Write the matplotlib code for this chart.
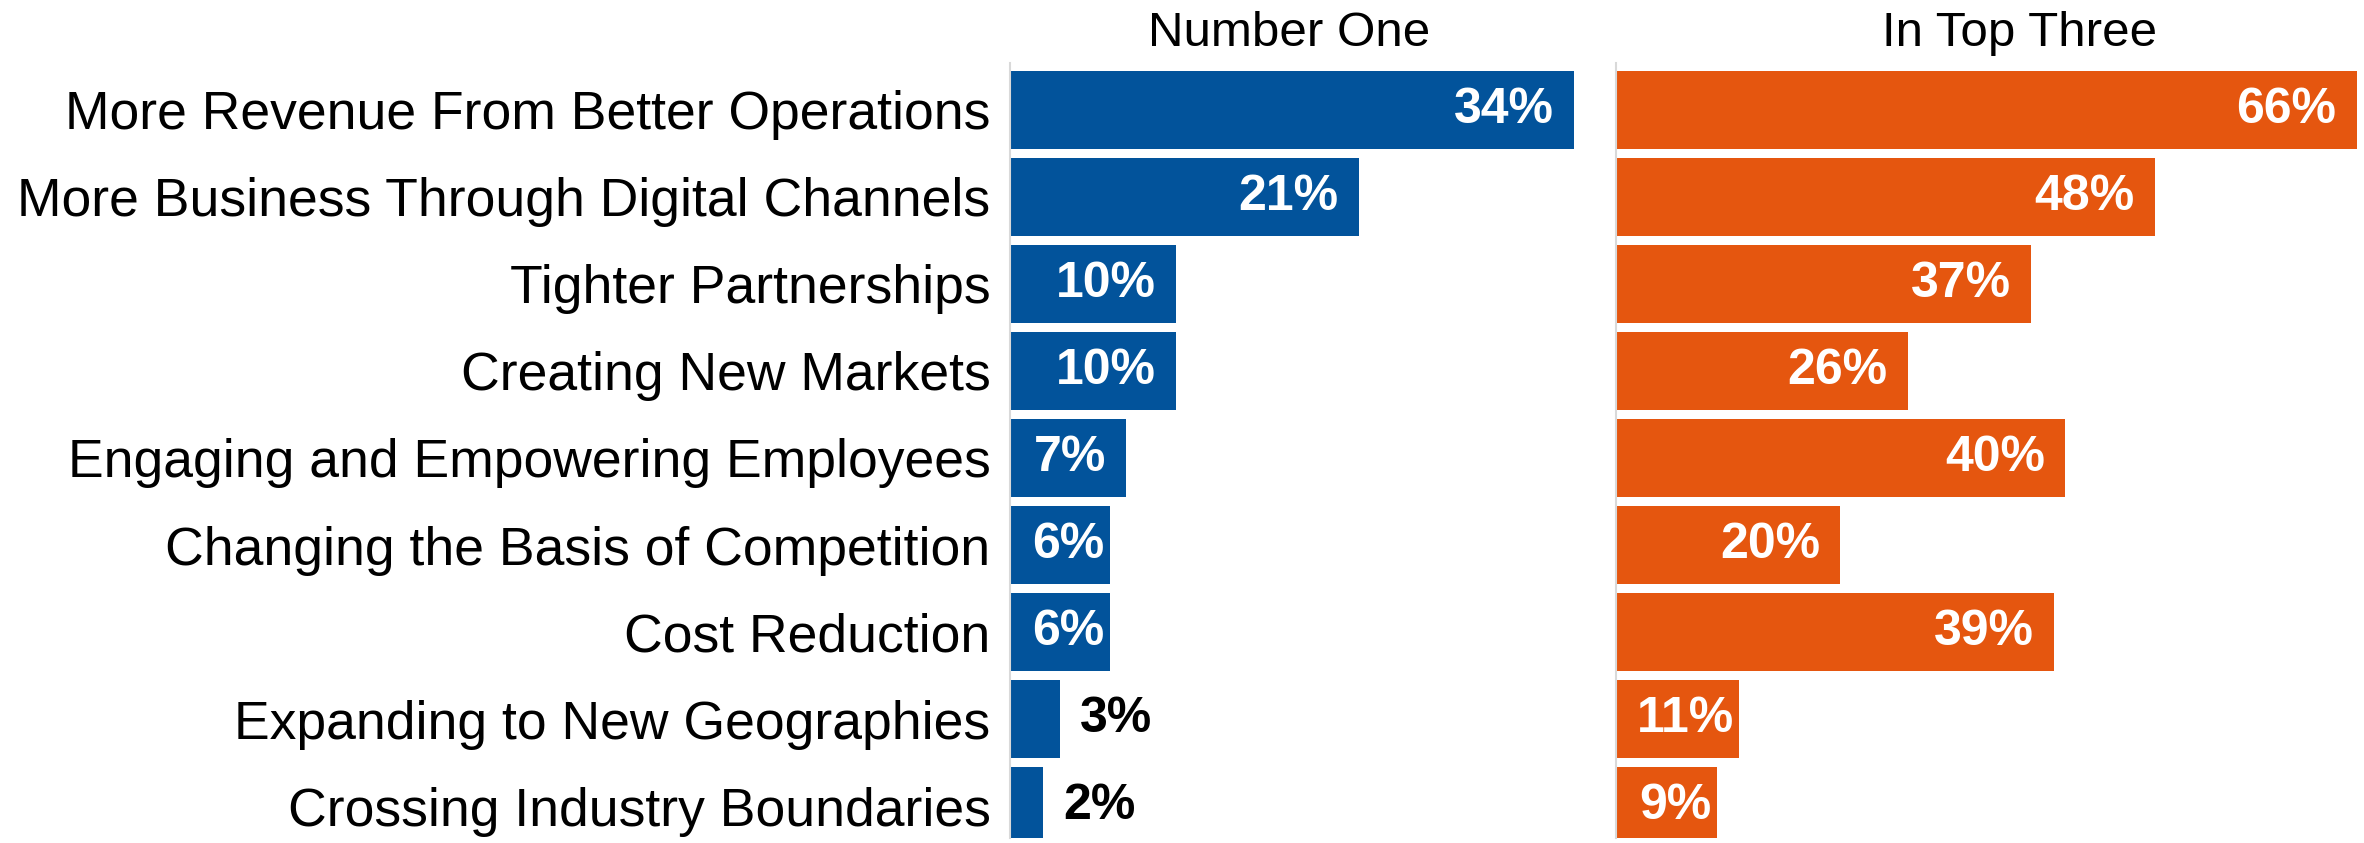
import numpy as np
import matplotlib
matplotlib.use("Agg")
import matplotlib.pyplot as plt

plt.rcParams['font.family'] = ['Liberation Sans', 'DejaVu Sans']

# survey answers, top to bottom
categories = [
    "More Revenue From Better Operations",
    "More Business Through Digital Channels",
    "Tighter Partnerships",
    "Creating New Markets",
    "Engaging and Empowering Employees",
    "Changing the Basis of Competition",
    "Cost Reduction",
    "Expanding to New Geographies",
    "Crossing Industry Boundaries",
]
number_one = [34, 21, 10, 10, 7, 6, 6, 3, 2]
top_three = [66, 48, 37, 26, 40, 20, 39, 11, 9]

BLUE = "#02539B"
ORANGE = "#E5560F"
GREY = "#D9D9D9"

W, H = 2364, 843
fig = plt.figure(figsize=(W / 100, H / 100), dpi=100)
renderer = fig.canvas.get_renderer()

pitch = 87.1
y_top = -0.5 - 3 / pitch
y_bot = y_top + 775 / pitch

ax1 = fig.add_axes([1010 / W, 5 / H, 600 / W, 775 / H])
ax2 = fig.add_axes([1616 / W, 5 / H, 748 / W, 775 / H])

y = np.arange(len(categories))


def panel(ax, vals, color, px_per_pct, min_inside):
    ax.barh(y, vals, height=78 / pitch, color=color, left=0)
    ax.set_ylim(y_bot, y_top)
    ax.set_xlim(0, ax.get_position().width * W / px_per_pct)
    for s in ["top", "right", "bottom"]:
        ax.spines[s].set_visible(False)
    ax.spines["left"].set_color(GREY)
    ax.spines["left"].set_linewidth(1.5)
    ax.set_xticks([])
    ax.tick_params(axis="y", length=0)
    pad = 20 / px_per_pct
    for yi, v in zip(y, vals):
        if v >= min_inside:
            t = ax.text(v - pad, yi, f"{v}%", ha="right", va="center",
                        color="white", fontsize=36, fontweight="bold")
            # short bars: keep the label off the axis line
            w = t.get_window_extent(renderer).width / px_per_pct
            if v - pad - w < pad:
                t.set_x(max(pad, v - 5 / px_per_pct - w))
                t.set_ha("left")
        else:
            ax.text(v + pad, yi, f"{v}%", ha="left", va="center",
                    color="black", fontsize=36, fontweight="bold")


panel(ax1, number_one, BLUE, 16.6, 5)
panel(ax2, top_three, ORANGE, 11.22, 5)

ax1.set_yticks(y)
ax1.set_yticklabels(categories, fontsize=38.5)
ax1.tick_params(axis="y", pad=14)
ax2.set_yticks([])

fig.text(1289 / W, 1 - 33 / H, "Number One", ha="center", va="center", fontsize=35.5)
fig.text(2020 / W, 1 - 33 / H, "In Top Three", ha="center", va="center", fontsize=35.5)

fig.savefig("out.png", dpi=100)
